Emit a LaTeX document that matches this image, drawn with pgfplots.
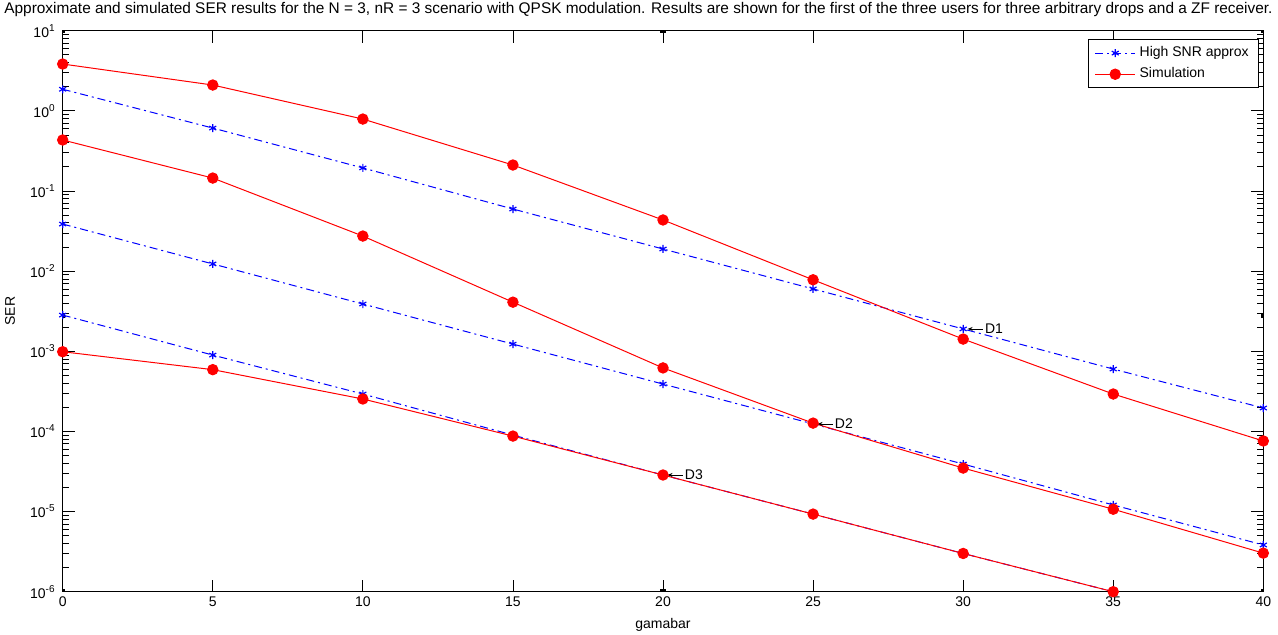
\documentclass[border=0pt]{standalone}
\usepackage{fontspec}
\setmainfont{Liberation Sans}
\usepackage{pgfplots}
\pgfplotsset{compat=1.18}
\usetikzlibrary{arrows.meta}
\definecolor{mblue}{RGB}{0,0,255}
\definecolor{mred}{RGB}{255,0,0}

\begin{document}
\begin{tikzpicture}
\useasboundingbox (-31.35pt,-21.15pt) rectangle (607.65pt,295.85pt);
\begin{axis}[
  at={(0,0)}, anchor=south west,
  scale only axis, width=600.3pt, height=280.5pt,
  ymode=log, xmin=0, xmax=40, ymin=1e-6, ymax=1e1,
  xtick={0,5,...,40},
  ytick={1e-6,1e-5,1e-4,1e-3,1e-2,1e-1,1e0,1e1},
  yticklabel={10\textsuperscript{\pgfmathparse{int(round(\tick/ln(10)))}\pgfmathresult}},
  /pgf/number format/assume math mode=true,
  tick pos=both, tick align=inside,
  major tick length=6pt, minor tick length=3pt,
  tick style={black, line width=0.4pt},
  axis line style={line width=0.6pt},
  tick label style={font=\fontsize{7}{8}\selectfont},
  xticklabel style={yshift=1pt},
  clip=true,
  xlabel={gamabar}, ylabel={SER},
  xlabel style={at={(rel axis cs:0.5,-0.0594)}, anchor=center, font=\fontsize{7}{8}\selectfont},
  ylabel style={at={(rel axis cs:-0.0439,0.5)}, anchor=center, font=\fontsize{7}{8}\selectfont},
  every axis title shift=0pt,
  title={Approximate and simulated SER results for the N = 3, nR = 3 scenario with QPSK modulation. Results are shown for the first of the three users for three arbitrary drops and a ZF receiver.},
  title style={at={(rel axis cs:0.4796,1)}, anchor=center, yshift=10.35pt, font=\fontsize{7.7}{9}\selectfont, inner sep=0pt},
  legend style={at={(rel axis cs:0.9964,0.985)}, anchor=north east, draw=black, line width=0.4pt,
    font=\fontsize{7}{8}\selectfont, row sep=0pt, inner xsep=3pt, inner ysep=1.5pt, cells={anchor=west}},
  legend image code/.code={\draw[mark repeat=2,mark phase=2] plot coordinates {(0cm,0cm)(0.35cm,0cm)(0.7cm,0cm)};},
  every axis plot/.append style={line width=0.5pt},
]
\pgfplotsset{
  approx/.style={mblue, dash pattern=on 4pt off 2pt on 1pt off 2pt, mark=asterisk, mark size=2pt, mark options={solid, line width=0.6pt}},
  sim/.style={mred, solid, mark=*, mark size=2.6pt, mark options={fill=mred, draw=mred}},
}
% D1
\addplot[approx] coordinates {(0,1.86)(5,0.61)(10,0.194)(15,0.0596)(20,0.0189)(25,0.0060)(30,0.0019)(35,6.0e-4)(40,1.96e-4)};
\addlegendentry{High SNR approx}
\addplot[sim] coordinates {(0,3.84)(5,2.1)(10,0.79)(15,0.211)(20,0.0435)(25,0.0078)(30,0.00142)(35,2.93e-4)(40,7.6e-5)};
\addlegendentry{Simulation}
% D2
\addplot[approx, forget plot] coordinates {(0,0.0387)(5,0.0123)(10,0.00389)(15,0.00123)(20,3.9e-4)(25,1.24e-4)(30,3.92e-5)(35,1.21e-5)(40,3.83e-6)};
\addplot[sim, forget plot] coordinates {(0,0.433)(5,0.145)(10,0.0274)(15,0.0041)(20,6.2e-4)(25,1.27e-4)(30,3.49e-5)(35,1.07e-5)(40,3.03e-6)};
% D3
\addplot[approx, forget plot] coordinates {(0,2.83e-3)(5,8.97e-4)(10,2.93e-4)(15,9.0e-5)(20,2.86e-5)(25,9.3e-6)(30,3.0e-6)(35,1.0e-6)(40,3.2e-7)};
\addplot[sim, forget plot] coordinates {(0,9.87e-4)(5,5.9e-4)(10,2.54e-4)(15,8.75e-5)(20,2.86e-5)(25,9.3e-6)(30,3.0e-6)(35,1.0e-6)(40,3.2e-7)};
% annotations
\draw[-{Stealth[length=2.5pt,width=2pt]}, line width=0.4pt] (axis cs:30.65,0.0019) node[right, inner sep=1pt, font=\fontsize{7}{8}\selectfont]{D1} -- (axis cs:30.15,0.0019);
\draw[-{Stealth[length=2.5pt,width=2pt]}, line width=0.4pt] (axis cs:25.65,1.24e-4) node[right, inner sep=1pt, font=\fontsize{7}{8}\selectfont]{D2} -- (axis cs:25.15,1.24e-4);
\draw[-{Stealth[length=2.5pt,width=2pt]}, line width=0.4pt] (axis cs:20.65,2.86e-5) node[right, inner sep=1pt, font=\fontsize{7}{8}\selectfont]{D3} -- (axis cs:20.15,2.86e-5);
% selection handles
\node[fill=black, minimum size=2.6pt, inner sep=0pt] at (rel axis cs:0,0) {};
\node[fill=black, minimum size=2.6pt, inner sep=0pt] at (rel axis cs:0.5,0) {};
\node[fill=black, minimum size=2.6pt, inner sep=0pt] at (rel axis cs:1,0) {};
\node[fill=black, minimum size=2.6pt, inner sep=0pt] at (rel axis cs:0,0.493) {};
\node[fill=black, minimum size=2.6pt, inner sep=0pt] at (rel axis cs:1,0.493) {};
\node[fill=black, minimum size=2.6pt, inner sep=0pt] at (rel axis cs:0,1) {};
\node[fill=black, minimum size=2.6pt, inner sep=0pt] at (rel axis cs:0.5,1) {};
\node[fill=black, minimum size=2.6pt, inner sep=0pt] at (rel axis cs:1,1) {};
\end{axis}
\end{tikzpicture}
\end{document}
